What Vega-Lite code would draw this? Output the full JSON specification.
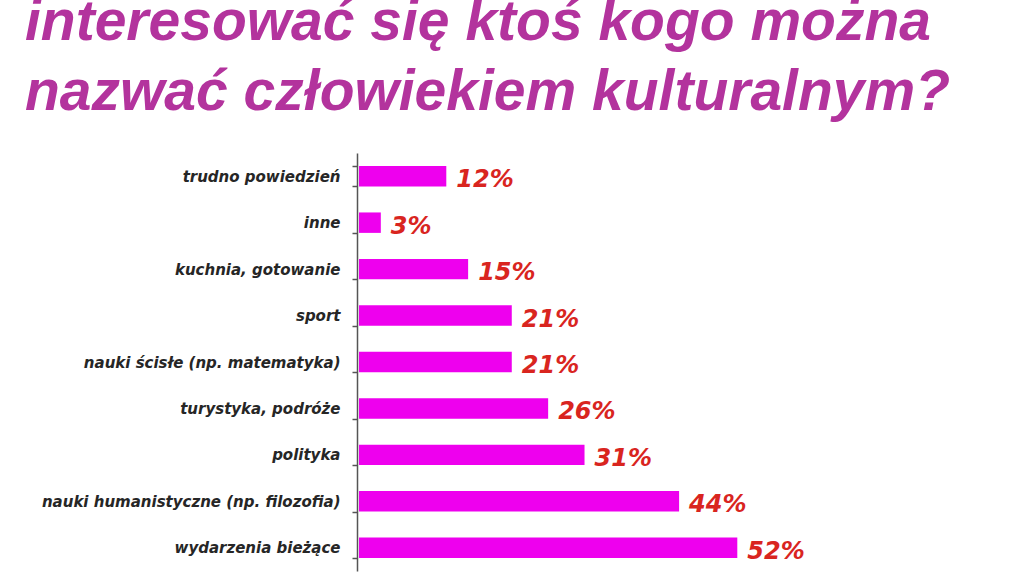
{
  "$schema": "https://vega.github.io/schema/vega-lite/v6.json",
  "autosize": "none",
  "width": 582,
  "height": 418,
  "padding": {"left": 357, "top": 153, "right": 91, "bottom": 7},
  "background": "#ffffff",
  "config": {"view": {"stroke": null}},
  "title": {
    "text": ["interesować się ktoś kogo można", "nazwać człowiekiem kulturalnym?"],
    "anchor": "start",
    "frame": "group",
    "orient": "top",
    "baseline": "bottom",
    "dx": -332,
    "dy": 64,
    "offset": 31,
    "lineHeight": 70,
    "font": "Liberation Sans",
    "fontSize": 57,
    "fontStyle": "italic",
    "fontWeight": "bold",
    "color": "#B3339D"
  },
  "data": {
    "values": [
      {"kategoria": "trudno powiedzień", "procent": 12, "etykieta": "12%"},
      {"kategoria": "inne", "procent": 3, "etykieta": "3%"},
      {"kategoria": "kuchnia, gotowanie", "procent": 15, "etykieta": "15%"},
      {"kategoria": "sport", "procent": 21, "etykieta": "21%"},
      {"kategoria": "nauki ścisłe (np. matematyka)", "procent": 21, "etykieta": "21%"},
      {"kategoria": "turystyka, podróże", "procent": 26, "etykieta": "26%"},
      {"kategoria": "polityka", "procent": 31, "etykieta": "31%"},
      {"kategoria": "nauki humanistyczne (np. filozofia)", "procent": 44, "etykieta": "44%"},
      {"kategoria": "wydarzenia bieżące", "procent": 52, "etykieta": "52%"}
    ]
  },
  "encoding": {
    "y": {
      "field": "kategoria",
      "type": "nominal",
      "sort": null,
      "scale": {"paddingInner": 0.56, "paddingOuter": 0.28},
      "axis": {
        "title": null,
        "domainColor": "#555555",
        "domainWidth": 1.5,
        "tickColor": "#555555",
        "tickWidth": 1.5,
        "tickSize": 5,
        "tickBand": "extent",
        "labelFont": "DejaVu Sans",
        "labelFontSize": 15,
        "labelFontStyle": "italic",
        "labelFontWeight": "bold",
        "labelColor": "#262626",
        "labelPadding": 12,
        "labelLimit": 400
      }
    },
    "x": {
      "field": "procent",
      "type": "quantitative",
      "scale": {"domain": [0, 80]},
      "axis": null
    }
  },
  "layer": [
    {
      "mark": {"type": "bar", "color": "#EE00EE", "xOffset": 2}
    },
    {
      "mark": {
        "type": "text",
        "align": "left",
        "baseline": "middle",
        "dx": 12,
        "dy": 4,
        "font": "DejaVu Sans",
        "fontSize": 24,
        "fontStyle": "italic",
        "fontWeight": "bold",
        "color": "#D9251F"
      },
      "encoding": {
        "text": {"field": "etykieta", "type": "nominal"}
      }
    }
  ]
}
